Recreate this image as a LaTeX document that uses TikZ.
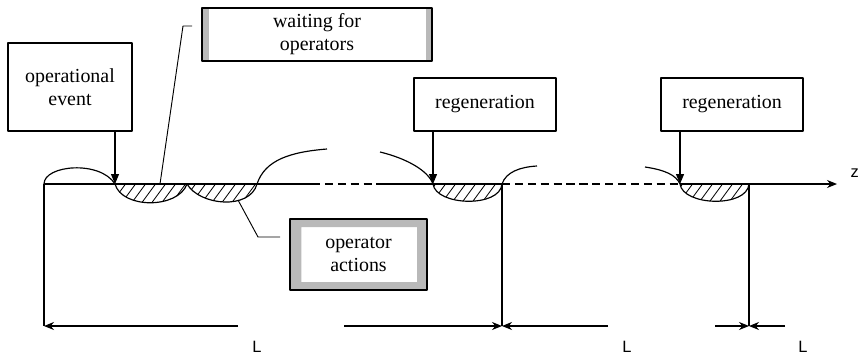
\documentclass[tikz,border=0pt]{standalone}
\usepackage{fontspec}
\setmainfont{Liberation Serif}
\newfontfamily\lsans{Liberation Sans}
\usetikzlibrary{arrows.meta}
\tikzset{
  lbl/.style={draw, line width=1pt, align=center, inner sep=0pt,
    font=\fontsize{17}{19.5}\selectfont},
  sidebars/.style={path picture={
    \fill[gray!55] (path picture bounding box.north west) rectangle ([xshift=2mm]path picture bounding box.south west);
    \fill[gray!55] (path picture bounding box.north east) rectangle ([xshift=-1.8mm]path picture bounding box.south east);}},
  grayframe/.style={path picture={
    \fill[gray!55, even odd rule] (path picture bounding box.north west) rectangle (path picture bounding box.south east)
      ([shift={(3.4mm,-2.4mm)}]path picture bounding box.north west) rectangle ([shift={(-3mm,2.4mm)}]path picture bounding box.south east);}},
  hatch/.style={line width=0.7pt},
  dimlbl/.style={font=\lsans\fontsize{14}{14}\selectfont, inner sep=0pt}
}
\begin{document}
\begin{tikzpicture}[x=0.3mm, y=-0.3mm, line width=1pt, line join=round, >={Stealth[length=3mm,width=2.4mm]}]
\useasboundingbox (0,0) rectangle (858,356);
% boxes
\node[lbl, minimum width=37.2mm, minimum height=26.4mm] (opev) at (70,87) {operational\\event};
\node[lbl, sidebars, minimum width=69mm, minimum height=15.9mm] (wait) at (317,34.5) {waiting for\\operators};
\node[lbl, minimum width=42.6mm, minimum height=15.9mm] (regA) at (485,104.5) {regeneration};
\node[lbl, minimum width=42.6mm, minimum height=15.9mm] (regB) at (732,104.5) {regeneration};
\node[lbl, grayframe, minimum width=41.1mm, minimum height=21.3mm] (opact) at (358.5,254.5) {operator\\actions};
% points on the z axis
\coordinate (e0) at (44,184);
\coordinate (t1) at (115,184);
\coordinate (t2) at (187,184);
\coordinate (t3) at (257,184);
\coordinate (rA) at (433,184);
\coordinate (e1) at (502,184);
\coordinate (rB) at (680,184);
\coordinate (e2) at (749,184);
\coordinate (zend) at (837,184);
\coordinate (b0) at (44,326);
\coordinate (b1) at (502,326);
\coordinate (b2) at (749,326);
% hatched parts
\begin{scope}
  \clip (t1) .. controls (122,209) and (178,209) .. (t2) .. controls (200,206) and (250,210) .. (t3) -- cycle;
  \foreach \x in {95,105,...,255} \draw[hatch] (\x,212)--++(22,-30);
\end{scope}
\begin{scope}
  \clip (rA) .. controls (436,206) and (500,208) .. (e1) -- cycle;
  \foreach \x in {415,425,...,505} \draw[hatch] (\x,212)--++(22,-30);
\end{scope}
\begin{scope}
  \clip (rB) .. controls (683,206) and (747,208) .. (e2) -- cycle;
  \foreach \x in {662,672,...,752} \draw[hatch] (\x,212)--++(22,-30);
\end{scope}
% axis
\draw (e0) -- (312,184);
\draw[dash pattern=on 7pt off 4pt] (312,184) -- (378,184);
\draw (378,184) -- (e1);
\draw[dash pattern=on 7pt off 4pt] (e1) -- (rB);
\draw[->] (rB) -- (zend);
\node[dimlbl, anchor=west] (zlab) at (850,173) {z};
% curves
\draw (e0) .. controls (44,165) and (100,160) .. (t1) .. controls (122,209) and (178,209) .. (t2)
  .. controls (200,206) and (250,210) .. (t3) .. controls (265,160) and (290,152) .. (327,149);
\draw (380,152) .. controls (405,158) and (428,170) .. (rA) .. controls (436,206) and (500,208) .. (e1)
  .. controls (506,172) and (520,167) .. (537,166);
\draw (645,167) .. controls (665,170) and (676,175) .. (rB) .. controls (683,206) and (747,208) .. (e2);
% events
\draw[-{Triangle[length=3mm,width=2.4mm]}] (opev.south -| t1) -- (t1);
\draw[-{Triangle[length=3mm,width=2.4mm]}] (regA.south -| rA) -- (rA);
\draw[-{Triangle[length=3mm,width=2.4mm]}] (regB.south -| rB) -- (rB);
% leaders
\coordinate (wl) at (160,184);
\coordinate (ol) at (238,200);
\draw[line width=0.8pt] (wl) -- (183,26) -- (192,26);
\draw[line width=0.8pt] (ol) -- (258,237) -- (280,237);
% lengths
\draw (e0) -- (b0);
\draw (e1) -- (b1);
\draw (e2) -- (b2);
\draw[->] (238,326) -- (b0);
\draw[->] (344,326) -- (b1);
\draw[->] (608,326) -- (b1);
\draw[->] (715,326) -- (b2);
\draw[->] (785,326) -- (b2);
\node[dimlbl] (L1) at (257,347) {L};
\node[dimlbl] (L2) at (627,347) {L};
\node[dimlbl] (L3) at (803,347) {L};
\end{tikzpicture}
\end{document}
